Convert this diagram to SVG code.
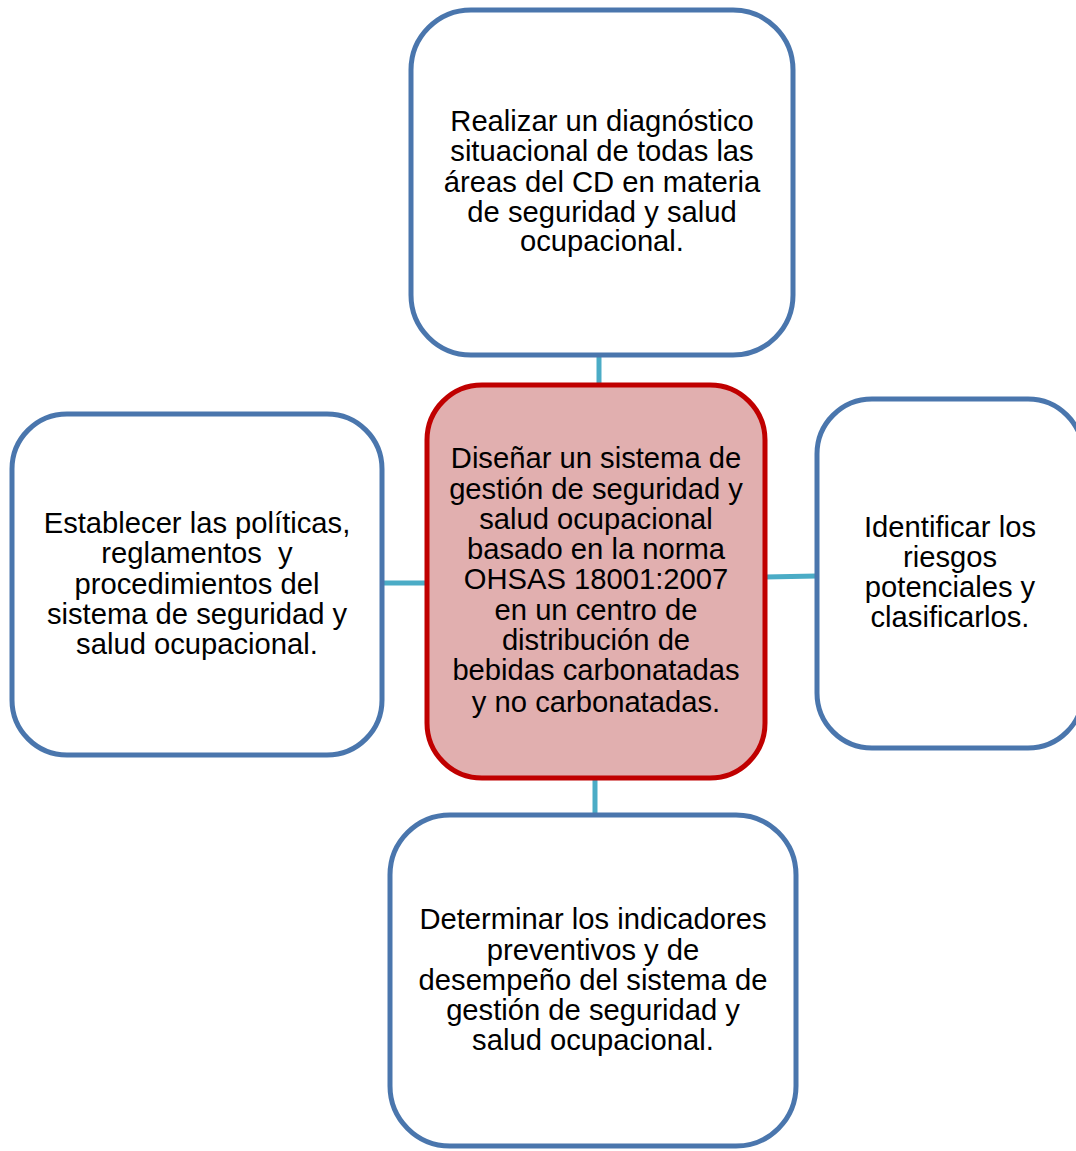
<svg xmlns="http://www.w3.org/2000/svg" width="1076" height="1151" viewBox="0 0 1076 1151">
<style>
.box{fill:#ffffff;stroke:#4a76ad;stroke-width:5}
.main{fill:#e1afaf;stroke:#c00000;stroke-width:5}
.conn{stroke:#4bacc6;stroke-width:5;fill:none}
text{font-family:"Liberation Sans",Arial,sans-serif;font-size:29.2px;fill:#000;text-anchor:middle}
</style>
<rect width="1076" height="1151" fill="#ffffff"/>
<g id="connectors">
<line class="conn" x1="599" y1="356" x2="599" y2="385"/>
<line class="conn" x1="382" y1="583" x2="427" y2="583"/>
<line class="conn" x1="765" y1="577" x2="817" y2="576"/>
<line class="conn" x1="595" y1="778" x2="595" y2="815"/>
</g>
<g id="top">
<rect class="box" x="411" y="10" width="382" height="345" rx="60"/>
<text x="602" y="131">Realizar un diagnóstico</text>
<text x="602" y="161">situacional de todas las</text>
<text x="602" y="192">áreas del CD en materia</text>
<text x="602" y="222">de seguridad y salud</text>
<text x="602" y="251">ocupacional.</text>
</g>
<g id="center">
<rect class="main" x="427" y="385" width="338" height="393" rx="55"/>
<text x="596" y="468">Diseñar un sistema de</text>
<text x="596" y="499">gestión de seguridad y</text>
<text x="596" y="529">salud ocupacional</text>
<text x="596" y="559">basado en la norma</text>
<text x="596" y="589">OHSAS 18001:2007</text>
<text x="596" y="620">en un centro de</text>
<text x="596" y="650">distribución de</text>
<text x="596" y="680">bebidas carbonatadas</text>
<text x="596" y="712">y no carbonatadas.</text>
</g>
<g id="left">
<rect class="box" x="12" y="414" width="370" height="341" rx="55"/>
<text x="197" y="533">Establecer las políticas,</text>
<text x="197" y="563" xml:space="preserve">reglamentos  y</text>
<text x="197" y="594">procedimientos del</text>
<text x="197" y="624">sistema de seguridad y</text>
<text x="197" y="654">salud ocupacional.</text>
</g>
<g id="right">
<rect class="box" x="817" y="399" width="266" height="349" rx="55"/>
<text x="950" y="537">Identificar los</text>
<text x="950" y="567">riesgos</text>
<text x="950" y="597">potenciales y</text>
<text x="950" y="627">clasificarlos.</text>
</g>
<g id="bottom">
<rect class="box" x="390" y="815" width="406" height="331" rx="60"/>
<text x="593" y="929">Determinar los indicadores</text>
<text x="593" y="960">preventivos y de</text>
<text x="593" y="990">desempeño del sistema de</text>
<text x="593" y="1020">gestión de seguridad y</text>
<text x="593" y="1050">salud ocupacional.</text>
</g>
</svg>
